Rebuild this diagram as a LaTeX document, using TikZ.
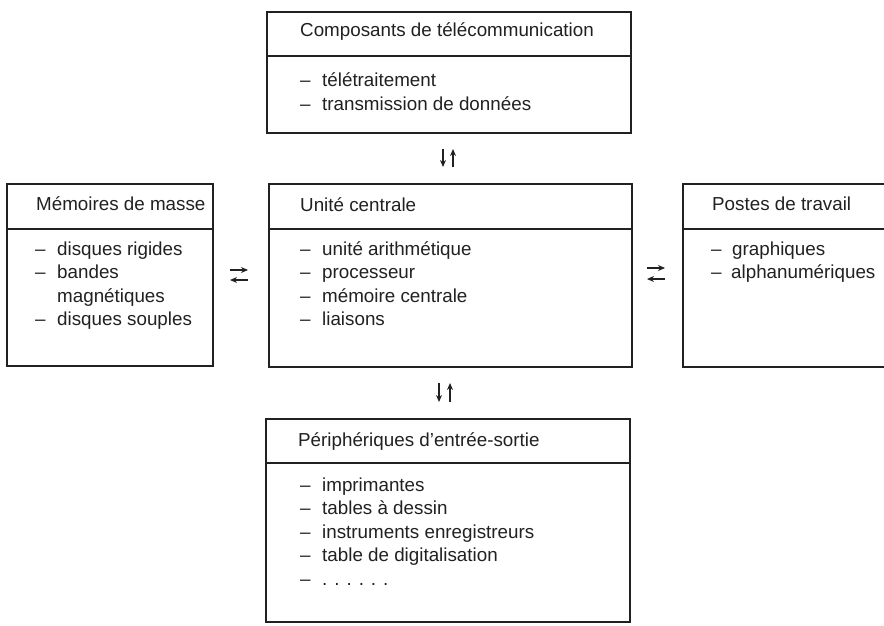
\documentclass[tikz,border=0pt]{standalone}
\usepackage{fontspec}
\setmainfont{Liberation Sans}
\usetikzlibrary{arrows.meta}
\definecolor{ink}{gray}{0.13}
\newcommand\dashitem[1]{\makebox[22pt][l]{–}#1}
\newcommand\contitem[1]{\makebox[22pt][l]{}#1}
\begin{document}
\begin{tikzpicture}[x=1pt,y=-1pt,
  frame/.style={draw=ink, line width=2.6pt, inner sep=0pt, outer sep=0pt, anchor=north west},
  rule/.style={draw=ink, line width=2.4pt},
  txt/.style={anchor=base west, inner sep=0pt, text=ink, font=\fontsize{18.8}{22}\selectfont},
  pair/.style={draw=ink, line width=1.6pt, -{Stealth[length=7pt,width=6pt]}}]
\useasboundingbox (0,0) rectangle (884,626);
\fill[white] (0,0) rectangle (884,626);
\clip (0,0) rectangle (884,626);

% ---- boxes ----
\node[frame, minimum width=364pt, minimum height=121pt] (tel) at (267,12) {};
\node[frame, minimum width=363pt, minimum height=183pt] (uc)  at (269,184) {};
\node[frame, minimum width=206pt, minimum height=182pt] (mm)  at (7,184) {};
\node[frame, minimum width=240pt, minimum height=183pt] (pt)  at (683,184) {};
\node[frame, minimum width=364pt, minimum height=203pt] (io)  at (266,419) {};

% ---- header dividers ----
\draw[rule] ([yshift=-44pt]tel.north west) -- ([yshift=-44pt]tel.north east);
\draw[rule] ([yshift=-45pt]uc.north west) -- ([yshift=-45pt]uc.north east);
\draw[rule] ([yshift=-45pt]mm.north west) -- ([yshift=-45pt]mm.north east);
\draw[rule] ([yshift=-45pt]pt.north west) -- ([yshift=-45pt]pt.north east);
\draw[rule] ([yshift=-44pt]io.north west) -- ([yshift=-44pt]io.north east);

% ---- top box ----
\node[txt] (telh) at (300,37) {Composants de télécommunication};
\node[txt] (tel1) at (300,87) {\dashitem{télétraitement}};
\node[txt] (tel2) at (300,110.5) {\dashitem{transmission de données}};

% ---- central unit ----
\node[txt] (uch) at (300,211.5) {Unité centrale};
\node[txt] (uc1) at (300,255) {\dashitem{unité arithmétique}};
\node[txt] (uc2) at (300,278.5) {\dashitem{processeur}};
\node[txt] (uc3) at (300,302) {\dashitem{mémoire centrale}};
\node[txt] (uc4) at (300,325.5) {\dashitem{liaisons}};

% ---- mass storage ----
\node[txt] (mmh) at (36,210.5) {Mémoires de masse};
\node[txt] (mm1) at (35,255) {\dashitem{disques rigides}};
\node[txt] (mm2) at (35,278.5) {\dashitem{bandes}};
\node[txt] (mm3) at (35,302) {\contitem{magnétiques}};
\node[txt] (mm4) at (35,325.5) {\dashitem{disques souples}};

% ---- workstations ----
\node[txt] (pth) at (712,210.5) {Postes de travail};
\node[txt] (pt1) at (711,255) {\makebox[21pt][l]{–}graphiques};
\node[txt] (pt2) at (711,278.5) {\makebox[20pt][l]{–}alphanumériques};

% ---- I/O peripherals ----
\node[txt] (ioh) at (298,446.5) {Périphériques d’entrée-sortie};
\node[txt] (io1) at (300,491) {\dashitem{imprimantes}};
\node[txt] (io2) at (300,514.5) {\dashitem{tables à dessin}};
\node[txt] (io3) at (300,538) {\dashitem{instruments enregistreurs}};
\node[txt] (io4) at (300,561.5) {\dashitem{table de digitalisation}};
\node[txt] (io5) at (300,585) {\dashitem{. . . . . .}};

% ---- arrow pairs ----
\coordinate (ta1) at (443,149); \coordinate (ta2) at (443,167);
\coordinate (tb1) at (453,167); \coordinate (tb2) at (453,149);
\draw[pair] (ta1) -- (ta2);
\draw[pair] (tb1) -- (tb2);

\coordinate (ba1) at (439,383); \coordinate (ba2) at (439,402);
\coordinate (bb1) at (450,402); \coordinate (bb2) at (450,383);
\draw[pair] (ba1) -- (ba2);
\draw[pair] (bb1) -- (bb2);

\coordinate (la1) at (230,270); \coordinate (la2) at (248,270);
\coordinate (lb1) at (248,280); \coordinate (lb2) at (230,280);
\draw[pair] (la1) -- (la2);
\draw[pair] (lb1) -- (lb2);

\coordinate (ra1) at (647,268); \coordinate (ra2) at (665,268);
\coordinate (rb1) at (665,279); \coordinate (rb2) at (647,279);
\draw[pair] (ra1) -- (ra2);
\draw[pair] (rb1) -- (rb2);
\end{tikzpicture}
\end{document}
